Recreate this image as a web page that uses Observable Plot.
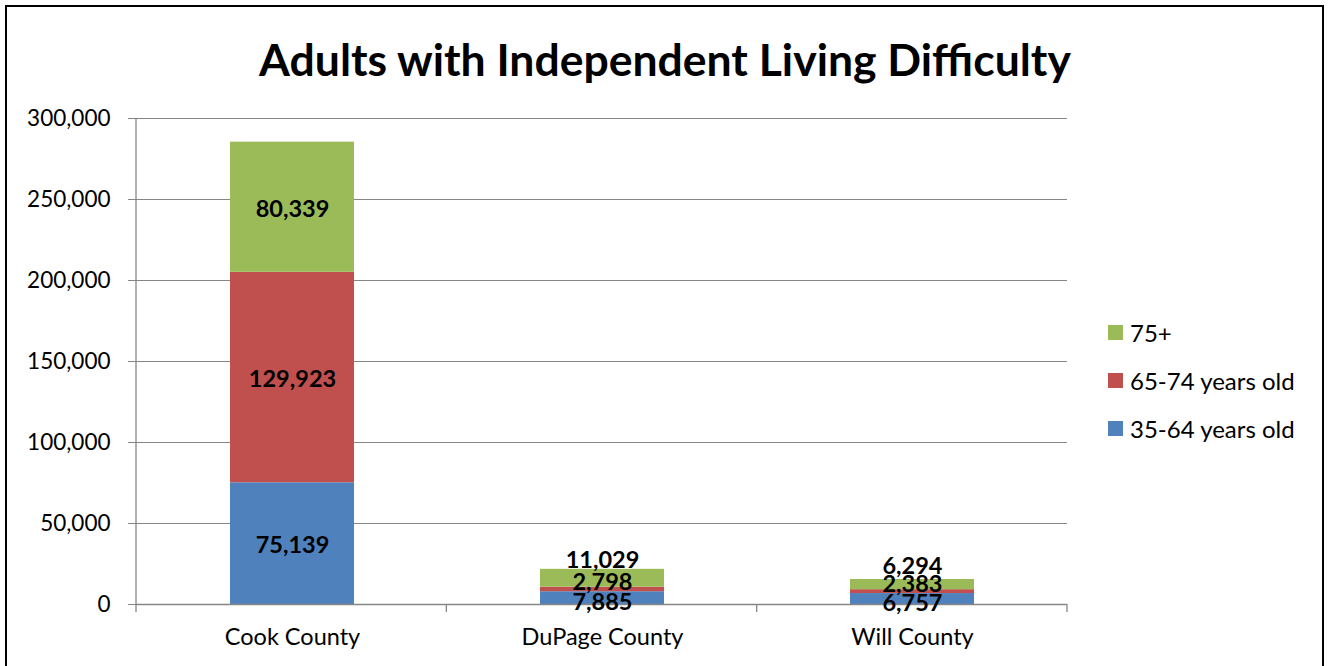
<!DOCTYPE html>
<html><head><meta charset="utf-8">
<script src="https://cdn.jsdelivr.net/npm/d3@7"></script>
<script src="https://cdn.jsdelivr.net/npm/@observablehq/plot@0.6"></script>
<style>
body{margin:0;background:#fff;font-family:Lato,"Open Sans",sans-serif;}
#wrap{position:relative;width:1328px;height:666px;overflow:hidden;}
#chart{position:absolute;left:0;top:0;}
#frame{position:absolute;left:5px;top:5px;width:1319px;height:700px;border:2.5px solid #000;box-sizing:border-box;}
#title{position:absolute;left:0;width:1330px;top:32px;text-align:center;font-weight:bold;font-size:44.5px;line-height:54px;color:#000;}
#legend{position:absolute;left:1108px;top:308px;}
.item{display:flex;align-items:center;height:48px;font-size:24px;color:#000;}
.sw{width:15px;height:15px;margin-right:7px;}
</style></head>
<body>
<div id="wrap">
<div id="chart"></div>
<div id="frame"></div>
<div id="title">Adults with Independent Living Difficulty</div>
<div id="legend"></div>
</div>
<script>
const counties = ["Cook County", "DuPage County", "Will County"];
const series = ["35-64 years old", "65-74 years old", "75+"];
const age35to64 = [75139, 7885, 6757];
const age65to74 = [129923, 2798, 2383];
const age75plus = [80339, 11029, 6294];
const yTicks = [0, 50000, 100000, 150000, 200000, 250000, 300000];
const colors = ["#4F81BD", "#C0504D", "#9BBB59"];

const seriesValues = [age35to64, age65to74, age75plus];
const rows = [];
counties.forEach((c, i) => {
  let cum = 0;
  seriesValues.forEach((vals, s) => {
    const v = vals[i];
    rows.push({county: c, series: series[s], value: v, mid: cum + v / 2});
    cum += v;
  });
});

const fmt = d3.format(",");
const labelStyle = {x: "county", y: "mid", text: d => fmt(d.value), fontWeight: "bold", fontSize: 23.5, fill: "#000"};
const small = s => d => d.county !== counties[0] && d.series === s;

const boundaryTicks = (index, scales, values, dims) => {
  const g = d3.create("svg:g").attr("stroke", "#868686").attr("stroke-width", 1.3);
  const x0 = dims.marginLeft, x1 = dims.width - dims.marginRight;
  const yb = dims.height - dims.marginBottom;
  const n = counties.length;
  const step = (x1 - x0) / n;
  for (let i = 0; i <= n; i++) {
    const xx = x0 + step * i;
    g.append("line").attr("x1", xx).attr("x2", xx).attr("y1", yb).attr("y2", yb + 8);
  }
  g.append("line").attr("x1", x0).attr("x2", x0).attr("y1", dims.marginTop).attr("y2", yb);
  return g.node();
};

const chart = Plot.plot({
  width: 1328,
  height: 666,
  marginLeft: 136,
  marginRight: 261,
  marginTop: 118,
  marginBottom: 62,
  style: {fontFamily: "Lato, 'Open Sans', sans-serif", background: "transparent"},
  x: {domain: counties, paddingInner: 0.6, paddingOuter: 0.3, label: null},
  y: {domain: [0, 300000], label: null},
  color: {domain: series, range: colors},
  marks: [
    Plot.gridY(yTicks, {stroke: "#868686", strokeOpacity: 1, strokeWidth: 1.2}),
    Plot.barY(rows, {x: "county", y: "value", fill: "series"}),
    Plot.ruleY([0], {stroke: "#868686", strokeWidth: 1.3}),
    Plot.axisY(yTicks, {tickSize: 8, tickPadding: 18, tickFormat: d => fmt(d), fontSize: 22.5, stroke: "#868686", fill: "#000", label: null}),
    Plot.axisX({tickSize: 0, tickPadding: 24, fontSize: 23.5, fill: "#000", label: null}),
    boundaryTicks,
    Plot.text(rows, {...labelStyle, filter: d => d.county === counties[0], dy: 2}),
    Plot.text(rows, {...labelStyle, filter: small(series[0]), dy: 4}),
    Plot.text(rows, {...labelStyle, filter: small(series[1]), dy: -7}),
    Plot.text(rows, {...labelStyle, filter: small(series[2]), dy: -18})
  ]
});
document.getElementById("chart").appendChild(chart);

const legend = document.getElementById("legend");
[2, 1, 0].forEach(i => {
  const item = document.createElement("div");
  item.className = "item";
  const sw = document.createElement("span");
  sw.className = "sw";
  sw.style.background = colors[i];
  item.appendChild(sw);
  item.appendChild(document.createTextNode(series[i]));
  legend.appendChild(item);
});
</script>
</body></html>
